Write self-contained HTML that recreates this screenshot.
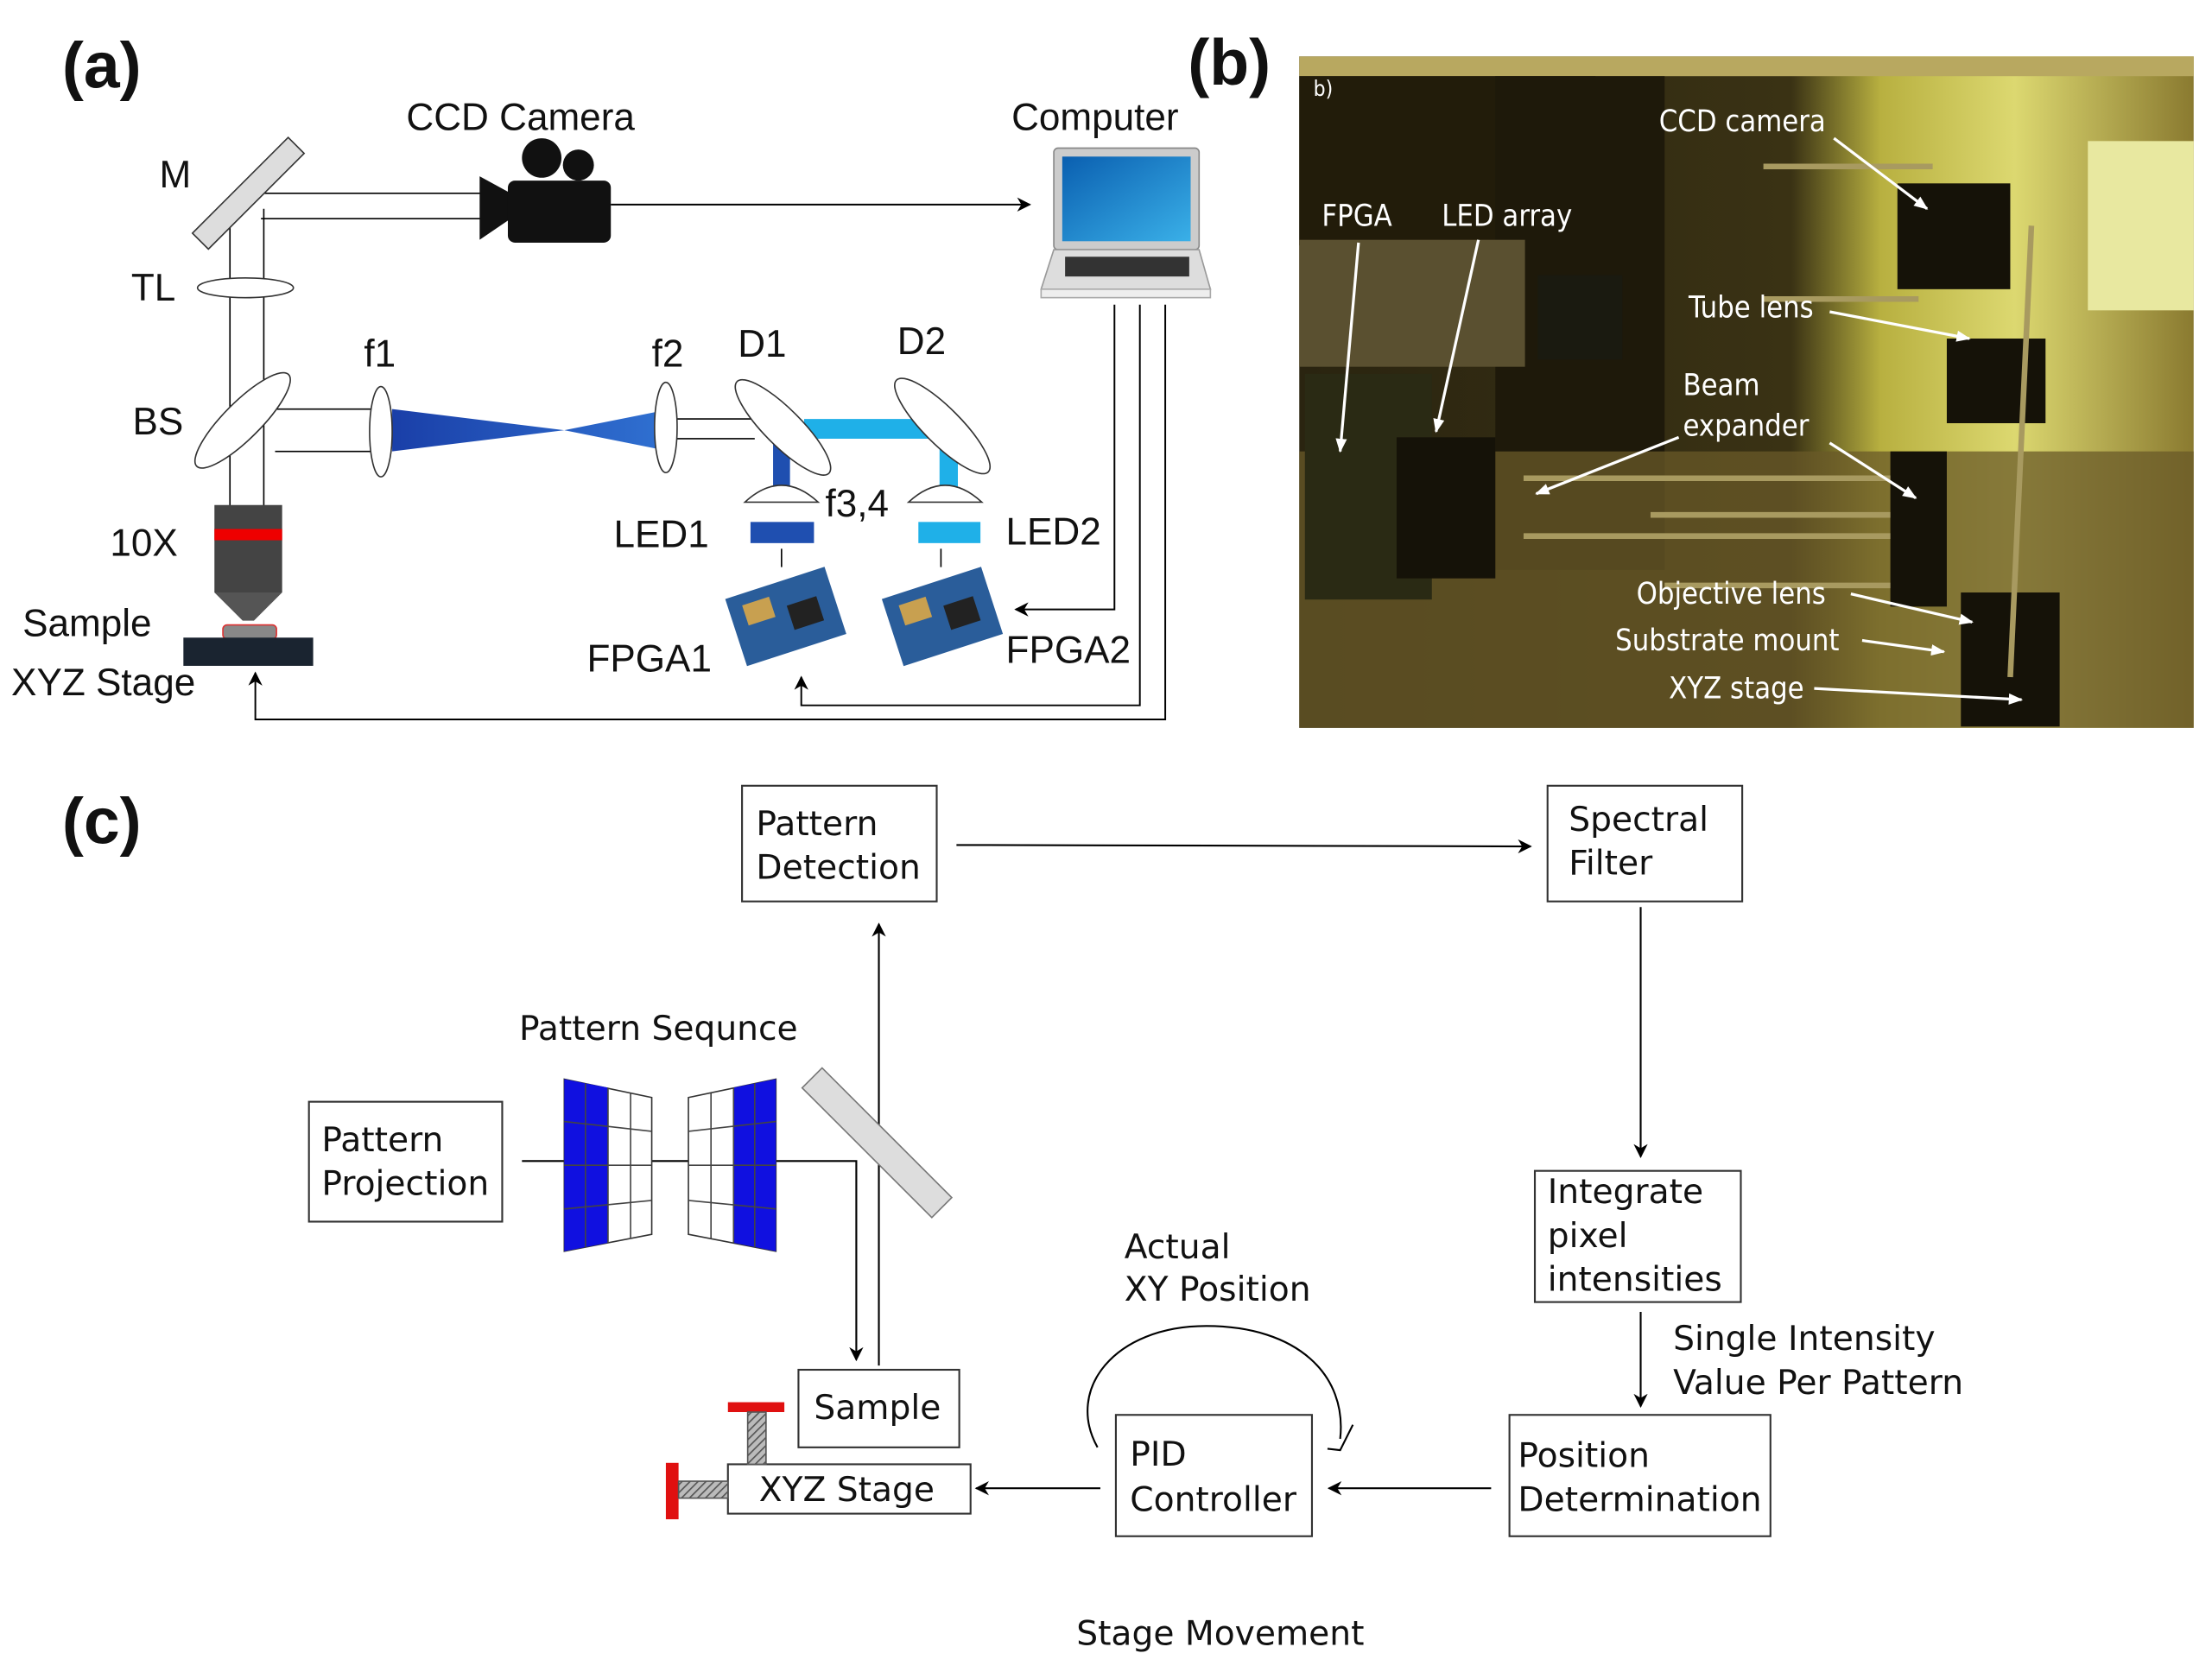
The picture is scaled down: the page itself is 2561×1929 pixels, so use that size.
<!DOCTYPE html>
<html><head><meta charset="utf-8"><style>
html,body{margin:0;padding:0;background:#fff;}
svg{display:block;}
text{font-family:"DejaVu Sans","Liberation Sans",sans-serif;fill:#111;}
.a{font-family:"Liberation Sans","DejaVu Sans",sans-serif;font-size:27px;}
.c{font-size:24px;}
.w{fill:#fff;font-size:21px;font-family:"DejaVu Sans Condensed","DejaVu Sans",sans-serif;}
</style></head><body>
<svg width="2561" height="1929" viewBox="0 0 1568 1181" preserveAspectRatio="none" xmlns="http://www.w3.org/2000/svg">
<defs>
<marker id="ar" markerWidth="10" markerHeight="10" refX="9" refY="5" orient="auto" markerUnits="userSpaceOnUse"><path d="M0,0 L10,5 L0,10 L3,5 Z" fill="#000"/></marker>
<marker id="aw" markerWidth="10" markerHeight="10" refX="9" refY="5" orient="auto" markerUnits="userSpaceOnUse"><path d="M0,1 L10,5 L0,9 Z" fill="#fff"/></marker>
<linearGradient id="cone" x1="0" x2="1"><stop offset="0" stop-color="#1a3fa8"/><stop offset="1" stop-color="#2f6fd0"/></linearGradient>
<linearGradient id="scr" x1="0" y1="0" x2="1" y2="1"><stop offset="0" stop-color="#0a5fb0"/><stop offset="1" stop-color="#3ab0e8"/></linearGradient>
<pattern id="hatch" width="4" height="4" patternUnits="userSpaceOnUse" patternTransform="rotate(45)"><rect width="4" height="4" fill="#bbb"/><line x1="0" y1="0" x2="0" y2="4" stroke="#555" stroke-width="2"/></pattern>
<linearGradient id="wall" x1="0" x2="1"><stop offset="0" stop-color="#2a2410"/><stop offset="0.55" stop-color="#3a3214"/><stop offset="0.65" stop-color="#b8b040"/><stop offset="0.8" stop-color="#dcd870"/><stop offset="1" stop-color="#8a7a30"/></linearGradient>
</defs>

<!-- Panel labels -->
<text x="44" y="62" style="font-size:46px;font-weight:bold;font-family:'Liberation Sans',sans-serif">(a)</text>
<text x="842" y="60" style="font-size:46px;font-weight:bold;font-family:'Liberation Sans',sans-serif">(b)</text>
<text x="44" y="598" style="font-size:46px;font-weight:bold;font-family:'Liberation Sans',sans-serif">(c)</text>

<!-- ===== Panel a ===== -->
<g stroke="#000" stroke-width="1" fill="none">
<line x1="163" y1="140" x2="163" y2="360"/><line x1="187" y1="148" x2="187" y2="360"/>
<line x1="170" y1="137" x2="345" y2="137"/><line x1="185" y1="155" x2="345" y2="155"/>
<line x1="195" y1="290" x2="265" y2="290"/><line x1="195" y1="320" x2="265" y2="320"/>
<line x1="480" y1="297" x2="535" y2="297"/><line x1="480" y1="311" x2="535" y2="311"/>
</g>
<rect x="128" y="129" width="96" height="16" fill="#ddd" stroke="#333" transform="rotate(-45 176 137)"/>
<text class="a" x="113" y="133">M</text>
<!-- camera -->
<path d="M340,125 L362,137 L362,155 L340,170 Z" fill="#111"/>
<rect x="360" y="128" width="73" height="44" rx="5" fill="#111"/>
<circle cx="384" cy="112" r="14" fill="#111"/><circle cx="410" cy="117" r="11" fill="#111"/>
<text class="a" x="288" y="92">CCD Camera</text>
<line x1="433" y1="145" x2="730" y2="145" stroke="#000" stroke-width="1.2" marker-end="url(#ar)"/>
<!-- computer -->
<rect x="747" y="105" width="103" height="72" rx="3" fill="#ccc" stroke="#888"/>
<rect x="753" y="111" width="91" height="60" fill="url(#scr)"/>
<path d="M747,177 L850,177 L858,205 L738,205 Z" fill="#ddd" stroke="#999"/>
<rect x="755" y="182" width="88" height="14" fill="#333"/>
<rect x="738" y="205" width="120" height="6" fill="#eee" stroke="#aaa"/>
<text class="a" x="717" y="92">Computer</text>
<!-- TL -->
<ellipse cx="174" cy="204" rx="34" ry="7" fill="#fff" stroke="#333"/>
<text class="a" x="93" y="213">TL</text>
<!-- BS -->
<ellipse cx="172" cy="298" rx="46" ry="13" fill="#fff" stroke="#333" transform="rotate(-45 172 298)"/>
<text class="a" x="94" y="308">BS</text>
<!-- f1 cone -->
<path d="M278,290 L400,305 L465,292 L465,318 L400,305 L278,320 Z" fill="url(#cone)"/>
<ellipse cx="270" cy="306" rx="8" ry="32" fill="#fff" stroke="#333"/>
<ellipse cx="472" cy="303" rx="8" ry="32" fill="#fff" stroke="#333"/>
<text class="a" x="258" y="260">f1</text>
<text class="a" x="462" y="260">f2</text>
<!-- D1 D2 -->
<rect x="570" y="297" width="95" height="14" fill="#1fb0e8"/>
<rect x="548" y="310" width="12" height="36" fill="#1f4fb0"/>
<rect x="666" y="310" width="13" height="36" fill="#1fb0e8"/>
<ellipse cx="555" cy="303" rx="46" ry="13" fill="#fff" stroke="#333" transform="rotate(45 555 303)"/>
<ellipse cx="668" cy="302" rx="46" ry="13" fill="#fff" stroke="#333" transform="rotate(45 668 302)"/>
<text class="a" x="523" y="253">D1</text>
<text class="a" x="636" y="251">D2</text>
<path d="M528,356 Q554,332 580,356 Z" fill="#fff" stroke="#333"/>
<path d="M644,356 Q670,332 696,356 Z" fill="#fff" stroke="#333"/>
<text class="a" x="585" y="366">f3,4</text>
<rect x="532" y="370" width="45" height="15" fill="#1f4fb0"/>
<rect x="651" y="370" width="44" height="15" fill="#1fb0e8"/>
<line x1="554" y1="389" x2="554" y2="402" stroke="#000"/><line x1="667" y1="389" x2="667" y2="402" stroke="#000"/>
<text class="a" x="435" y="388">LED1</text>
<text class="a" x="713" y="386">LED2</text>
<!-- FPGA boards -->
<g transform="rotate(-18 557 437)"><rect x="520" y="412" width="74" height="50" fill="#2a5d9a"/><rect x="530" y="420" width="20" height="15" fill="#c8a050"/><rect x="560" y="430" width="22" height="18" fill="#222"/></g>
<g transform="rotate(-18 668 437)"><rect x="631" y="412" width="74" height="50" fill="#2a5d9a"/><rect x="641" y="420" width="20" height="15" fill="#c8a050"/><rect x="671" y="430" width="22" height="18" fill="#222"/></g>
<text class="a" x="416" y="476">FPGA1</text>
<text class="a" x="713" y="470">FPGA2</text>
<!-- objective -->
<rect x="152" y="358" width="48" height="62" fill="#444"/>
<rect x="152" y="375" width="48" height="8" fill="#e00"/>
<path d="M152,420 L200,420 L180,440 L172,440 Z" fill="#555"/>
<text class="a" x="78" y="394">10X</text>
<rect x="158" y="443" width="38" height="10" rx="3" fill="#888" stroke="#d33"/>
<rect x="130" y="452" width="92" height="20" fill="#1a2430"/>
<text class="a" x="16" y="451">Sample</text>
<text class="a" x="8" y="493">XYZ Stage</text>
<!-- wires -->
<g stroke="#000" stroke-width="1.2" fill="none">
<path d="M790,216 L790,432 L720,432" marker-end="url(#ar)"/>
<path d="M808,216 L808,500 L568,500 L568,480" marker-end="url(#ar)"/>
<path d="M826,216 L826,510 L181,510 L181,477" marker-end="url(#ar)"/>
</g>

<!-- ===== Panel b photo ===== -->
<rect x="921" y="40" width="634" height="476" fill="url(#wall)"/>
<rect x="921" y="40" width="634" height="14" fill="#b8a860"/>
<rect x="921" y="54" width="210" height="120" fill="#221c0a"/>
<rect x="1060" y="54" width="120" height="350" fill="#1e190a"/>
<rect x="921" y="320" width="634" height="196" fill="#6a5a28" opacity="0.75"/>
<rect x="921" y="170" width="160" height="90" fill="#5a5030"/>
<rect x="1090" y="195" width="60" height="60" fill="#1a1a10"/>
<rect x="925" y="265" width="90" height="160" fill="#2a2a14"/>
<rect x="990" y="310" width="70" height="100" fill="#151208"/>
<rect x="1345" y="130" width="80" height="75" fill="#151208"/>
<rect x="1380" y="240" width="70" height="60" fill="#151208"/>
<rect x="1340" y="320" width="40" height="110" fill="#151208"/>
<rect x="1390" y="420" width="70" height="95" fill="#151208"/>
<rect x="1480" y="100" width="75" height="120" fill="#e8e8a0"/>
<g stroke="#a89a60" stroke-width="4">
<line x1="1080" y1="339" x2="1340" y2="339"/><line x1="1080" y1="380" x2="1340" y2="380"/>
<line x1="1170" y1="365" x2="1340" y2="365"/><line x1="1180" y1="415" x2="1340" y2="415"/>
<line x1="1250" y1="118" x2="1370" y2="118"/><line x1="1250" y1="212" x2="1360" y2="212"/>
<line x1="1440" y1="160" x2="1425" y2="480"/>
</g>
<text class="w" x="931" y="68" style="font-size:15px">b)</text>
<g stroke="#fff" stroke-width="2" fill="none" marker-end="url(#aw)">
<line x1="963" y1="172" x2="950" y2="320"/>
<line x1="1048" y1="170" x2="1018" y2="306"/>
<line x1="1300" y1="98" x2="1366" y2="148"/>
<line x1="1297" y1="221" x2="1396" y2="240"/>
<line x1="1190" y1="310" x2="1089" y2="350"/>
<line x1="1297" y1="314" x2="1358" y2="353"/>
<line x1="1312" y1="421" x2="1398" y2="441"/>
<line x1="1320" y1="454" x2="1378" y2="462"/>
<line x1="1286" y1="488" x2="1433" y2="496"/>
</g>
<text class="w" x="1176" y="93">CCD camera</text>
<text class="w" x="937" y="160">FPGA</text>
<text class="w" x="1022" y="160">LED array</text>
<text class="w" x="1197" y="225">Tube lens</text>
<text class="w" x="1193" y="280">Beam</text>
<text class="w" x="1193" y="309">expander</text>
<text class="w" x="1160" y="428">Objective lens</text>
<text class="w" x="1145" y="461">Substrate mount</text>
<text class="w" x="1183" y="495">XYZ stage</text>

<!-- ===== Panel c ===== -->
<g fill="#fff" stroke="#333" stroke-width="1.3">
<rect x="526" y="557" width="138" height="82"/>
<rect x="1097" y="557" width="138" height="82"/>
<rect x="1088" y="830" width="146" height="93"/>
<rect x="1070" y="1003" width="185" height="86"/>
<rect x="791" y="1003" width="139" height="86"/>
<rect x="516" y="1038" width="172" height="35"/>
<rect x="566" y="971" width="114" height="55"/>
<rect x="219" y="781" width="137" height="85"/>
</g>
<text class="c" x="536" y="592">Pattern</text><text class="c" x="536" y="623">Detection</text>
<text class="c" x="1112" y="589">Spectral</text><text class="c" x="1112" y="620">Filter</text>
<text class="c" x="1097" y="853">Integrate</text><text class="c" x="1097" y="884">pixel</text><text class="c" x="1097" y="915">intensities</text>
<text class="c" x="1076" y="1040">Position</text><text class="c" x="1076" y="1071">Determination</text>
<text class="c" x="801" y="1039">PID</text><text class="c" x="801" y="1071">Controller</text>
<text class="c" x="538" y="1064">XYZ Stage</text>
<text class="c" x="577" y="1006">Sample</text>
<text class="c" x="228" y="816">Pattern</text><text class="c" x="228" y="847">Projection</text>
<text class="c" x="368" y="737">Pattern Sequnce</text>
<text class="c" x="797" y="892">Actual</text><text class="c" x="797" y="922">XY Position</text>
<text class="c" x="1186" y="957">Single Intensity</text><text class="c" x="1186" y="988">Value Per Pattern</text>
<text class="c" x="763" y="1166">Stage Movement</text>
<g stroke="#000" stroke-width="1.3" fill="none" marker-end="url(#ar)">
<line x1="678" y1="599" x2="1085" y2="600"/>
<line x1="1163" y1="643" x2="1163" y2="820"/>
<line x1="1163" y1="930" x2="1163" y2="997"/>
<line x1="1057" y1="1055" x2="942" y2="1055"/>
<line x1="780" y1="1055" x2="692" y2="1055"/>
<path d="M370,823 L607,823 L607,964"/>
<line x1="623" y1="968" x2="623" y2="655"/>
</g>
<path d="M778,1026 C755,985 790,940 855,940 C920,940 955,975 950,1020" stroke="#000" stroke-width="1.3" fill="none"/>
<path d="M941,1027 L950,1028 L959,1010" stroke="#000" stroke-width="1.3" fill="none"/>
<!-- beam splitter -->
<rect x="555" y="806" width="130" height="20" fill="#ddd" stroke="#777" transform="rotate(45 628 815)"/>
<!-- pattern grids -->
<path d="M400,765 L462,778 L462,875 L400,887 Z" fill="#fff" stroke="#333"/>
<path d="M400,765 L431,771 L431,881 L400,887 Z" fill="#1010e0"/>
<g stroke="#444" stroke-width="1"><line x1="415" y1="768" x2="415" y2="884"/><line x1="431" y1="771" x2="431" y2="881"/><line x1="447" y1="775" x2="447" y2="878"/>
<line x1="400" y1="795" x2="462" y2="802"/><line x1="400" y1="826" x2="462" y2="826"/><line x1="400" y1="857" x2="462" y2="851"/></g>
<path d="M488,778 L550,765 L550,887 L488,875 Z" fill="#fff" stroke="#333"/>
<path d="M520,771 L550,765 L550,887 L520,881 Z" fill="#1010e0"/>
<g stroke="#444" stroke-width="1"><line x1="504" y1="775" x2="504" y2="878"/><line x1="520" y1="771" x2="520" y2="881"/><line x1="535" y1="768" x2="535" y2="884"/>
<line x1="488" y1="802" x2="550" y2="795"/><line x1="488" y1="826" x2="550" y2="826"/><line x1="488" y1="851" x2="550" y2="857"/></g>
<!-- stage knobs -->
<rect x="516" y="994" width="40" height="7" fill="#e01010"/>
<rect x="530" y="1001" width="13" height="37" fill="url(#hatch)" stroke="#555"/>
<rect x="472" y="1037" width="9" height="40" fill="#e01010"/>
<rect x="481" y="1050" width="35" height="12" fill="url(#hatch)" stroke="#555"/>
</svg>
</body></html>
